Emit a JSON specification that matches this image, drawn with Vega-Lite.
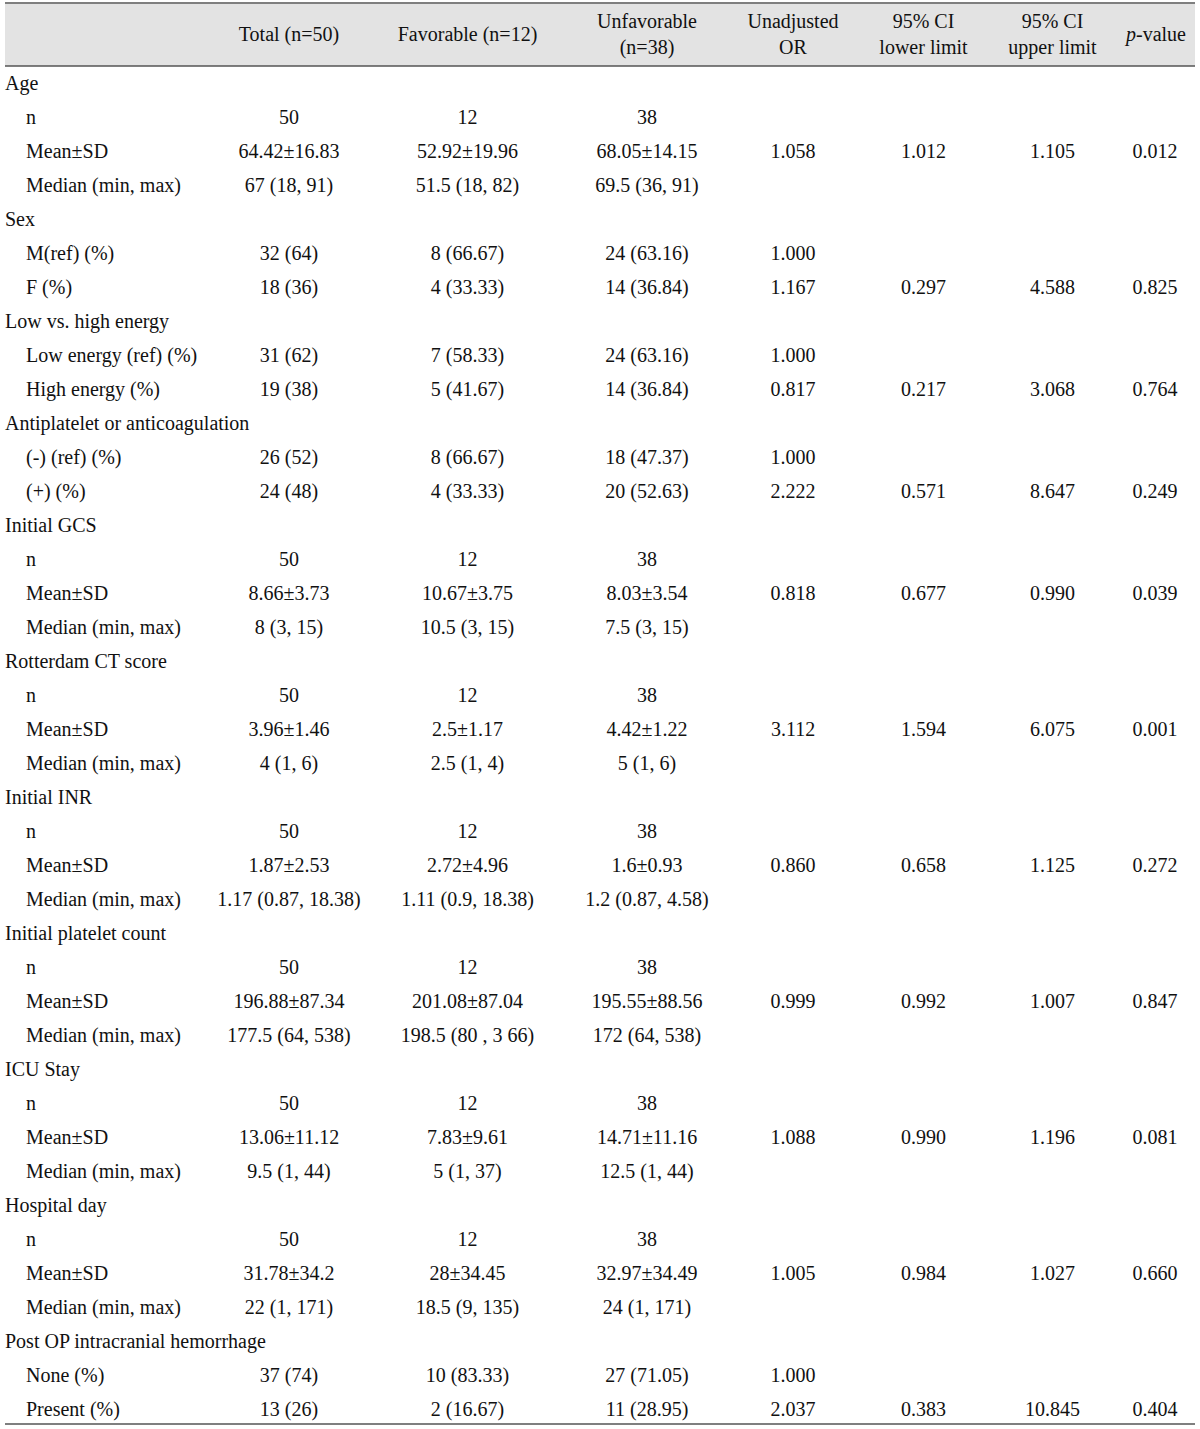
{
  "$schema": "https://vega.github.io/schema/vega-lite/v6.json",
  "width": 1200,
  "height": 1429,
  "autosize": {"type": "fit", "contains": "padding"},
  "padding": {"left": 4, "right": 4, "top": 0, "bottom": 0},
  "background": "white",
  "config": {
    "view": {"stroke": null},
    "text": {"font": "Liberation Serif", "fontSize": 20, "color": "#111111", "baseline": "middle"}
  },
  "datasets": {
    "cols": [
      {"key": "Total", "ci": 1, "head": "Total (n=50)"},
      {"key": "Fav", "ci": 2, "head": "Favorable  (n=12)"},
      {"key": "Unfav", "ci": 3, "head": "Unfavorable\n(n=38)"},
      {"key": "OR", "ci": 4, "head": "Unadjusted\nOR"},
      {"key": "Lo", "ci": 5, "head": "95% CI\nlower limit"},
      {"key": "Hi", "ci": 6, "head": "95% CI\nupper limit"},
      {"key": "P", "ci": 7, "head": ""}
    ],
    "rows": [
      {"r": 0, "lvl": 0, "label": "Age"},
      {"r": 1, "lvl": 1, "label": "n", "Total": "50", "Fav": "12", "Unfav": "38"},
      {"r": 2, "lvl": 1, "label": "Mean±SD", "Total": "64.42±16.83", "Fav": "52.92±19.96", "Unfav": "68.05±14.15", "OR": "1.058", "Lo": "1.012", "Hi": "1.105", "P": "0.012"},
      {"r": 3, "lvl": 1, "label": "Median (min, max)", "Total": "67 (18, 91)", "Fav": "51.5 (18, 82)", "Unfav": "69.5 (36, 91)"},
      {"r": 4, "lvl": 0, "label": "Sex"},
      {"r": 5, "lvl": 1, "label": "M(ref) (%)", "Total": "32 (64)", "Fav": "8 (66.67)", "Unfav": "24 (63.16)", "OR": "1.000"},
      {"r": 6, "lvl": 1, "label": "F (%)", "Total": "18 (36)", "Fav": "4 (33.33)", "Unfav": "14 (36.84)", "OR": "1.167", "Lo": "0.297", "Hi": "4.588", "P": "0.825"},
      {"r": 7, "lvl": 0, "label": "Low vs. high energy"},
      {"r": 8, "lvl": 1, "label": "Low energy (ref) (%)", "Total": "31 (62)", "Fav": "7 (58.33)", "Unfav": "24 (63.16)", "OR": "1.000"},
      {"r": 9, "lvl": 1, "label": "High energy (%)", "Total": "19 (38)", "Fav": "5 (41.67)", "Unfav": "14 (36.84)", "OR": "0.817", "Lo": "0.217", "Hi": "3.068", "P": "0.764"},
      {"r": 10, "lvl": 0, "label": "Antiplatelet or anticoagulation"},
      {"r": 11, "lvl": 1, "label": "(-) (ref) (%)", "Total": "26 (52)", "Fav": "8 (66.67)", "Unfav": "18 (47.37)", "OR": "1.000"},
      {"r": 12, "lvl": 1, "label": "(+) (%)", "Total": "24 (48)", "Fav": "4 (33.33)", "Unfav": "20 (52.63)", "OR": "2.222", "Lo": "0.571", "Hi": "8.647", "P": "0.249"},
      {"r": 13, "lvl": 0, "label": "Initial GCS"},
      {"r": 14, "lvl": 1, "label": "n", "Total": "50", "Fav": "12", "Unfav": "38"},
      {"r": 15, "lvl": 1, "label": "Mean±SD", "Total": "8.66±3.73", "Fav": "10.67±3.75", "Unfav": "8.03±3.54", "OR": "0.818", "Lo": "0.677", "Hi": "0.990", "P": "0.039"},
      {"r": 16, "lvl": 1, "label": "Median (min, max)", "Total": "8 (3, 15)", "Fav": "10.5 (3, 15)", "Unfav": "7.5 (3, 15)"},
      {"r": 17, "lvl": 0, "label": "Rotterdam CT score"},
      {"r": 18, "lvl": 1, "label": "n", "Total": "50", "Fav": "12", "Unfav": "38"},
      {"r": 19, "lvl": 1, "label": "Mean±SD", "Total": "3.96±1.46", "Fav": "2.5±1.17", "Unfav": "4.42±1.22", "OR": "3.112", "Lo": "1.594", "Hi": "6.075", "P": "0.001"},
      {"r": 20, "lvl": 1, "label": "Median (min, max)", "Total": "4 (1, 6)", "Fav": "2.5 (1, 4)", "Unfav": "5 (1, 6)"},
      {"r": 21, "lvl": 0, "label": "Initial INR"},
      {"r": 22, "lvl": 1, "label": "n", "Total": "50", "Fav": "12", "Unfav": "38"},
      {"r": 23, "lvl": 1, "label": "Mean±SD", "Total": "1.87±2.53", "Fav": "2.72±4.96", "Unfav": "1.6±0.93", "OR": "0.860", "Lo": "0.658", "Hi": "1.125", "P": "0.272"},
      {"r": 24, "lvl": 1, "label": "Median (min, max)", "Total": "1.17 (0.87, 18.38)", "Fav": "1.11 (0.9, 18.38)", "Unfav": "1.2 (0.87, 4.58)"},
      {"r": 25, "lvl": 0, "label": "Initial platelet count"},
      {"r": 26, "lvl": 1, "label": "n", "Total": "50", "Fav": "12", "Unfav": "38"},
      {"r": 27, "lvl": 1, "label": "Mean±SD", "Total": "196.88±87.34", "Fav": "201.08±87.04", "Unfav": "195.55±88.56", "OR": "0.999", "Lo": "0.992", "Hi": "1.007", "P": "0.847"},
      {"r": 28, "lvl": 1, "label": "Median (min, max)", "Total": "177.5 (64, 538)", "Fav": "198.5 (80 , 3 66)", "Unfav": "172 (64, 538)"},
      {"r": 29, "lvl": 0, "label": "ICU Stay"},
      {"r": 30, "lvl": 1, "label": "n", "Total": "50", "Fav": "12", "Unfav": "38"},
      {"r": 31, "lvl": 1, "label": "Mean±SD", "Total": "13.06±11.12", "Fav": "7.83±9.61", "Unfav": "14.71±11.16", "OR": "1.088", "Lo": "0.990", "Hi": "1.196", "P": "0.081"},
      {"r": 32, "lvl": 1, "label": "Median (min, max)", "Total": "9.5 (1, 44)", "Fav": "5 (1, 37)", "Unfav": "12.5 (1, 44)"},
      {"r": 33, "lvl": 0, "label": "Hospital day"},
      {"r": 34, "lvl": 1, "label": "n", "Total": "50", "Fav": "12", "Unfav": "38"},
      {"r": 35, "lvl": 1, "label": "Mean±SD", "Total": "31.78±34.2", "Fav": "28±34.45", "Unfav": "32.97±34.49", "OR": "1.005", "Lo": "0.984", "Hi": "1.027", "P": "0.660"},
      {"r": 36, "lvl": 1, "label": "Median (min, max)", "Total": "22 (1, 171)", "Fav": "18.5 (9, 135)", "Unfav": "24 (1, 171)"},
      {"r": 37, "lvl": 0, "label": "Post OP intracranial hemorrhage"},
      {"r": 38, "lvl": 1, "label": "None (%)", "Total": "37 (74)", "Fav": "10 (83.33)", "Unfav": "27 (71.05)", "OR": "1.000"},
      {"r": 39, "lvl": 1, "label": "Present (%)", "Total": "13 (26)", "Fav": "2 (16.67)", "Unfav": "11 (28.95)", "OR": "2.037", "Lo": "0.383", "Hi": "10.845", "P": "0.404"}
    ]
  },
  "resolve": {"scale": {"x": "independent"}},
  "layer": [
    {
      "data": {"values": [{"band": "header"}]},
      "mark": {"type": "rect", "color": "#e3e3e3"},
      "encoding": {
        "y": {"datum": -2.353, "type": "quantitative", "scale": {"domain": [-2.4706, 39.5588], "reverse": true, "zero": false, "nice": false}, "axis": null},
        "y2": {"datum": -0.529}
      }
    },
    {
      "data": {"values": [{"line": -2.382}, {"line": -0.529}, {"line": 39.412}]},
      "mark": {"type": "rule", "strokeWidth": 1.6, "color": "#555555"},
      "encoding": {
        "y": {"field": "line", "type": "quantitative", "scale": {"domain": [-2.4706, 39.5588], "reverse": true, "zero": false, "nice": false}, "axis": null}
      }
    },
    {
      "data": {"name": "cols"},
      "transform": [{"filter": "indexof(datum.head, '\\n') < 0"}],
      "mark": {"type": "text", "align": "center"},
      "encoding": {
        "x": {"field": "ci", "type": "quantitative", "scale": {"domain": [0, 1, 2, 3, 4, 5, 6, 7], "range": [0, 284, 462.5, 642, 788, 918.5, 1047.5, 1150], "zero": false, "nice": false}, "axis": null},
        "y": {"datum": -1.441, "type": "quantitative", "scale": {"domain": [-2.4706, 39.5588], "reverse": true, "zero": false, "nice": false}, "axis": null},
        "text": {"field": "head"}
      }
    },
    {
      "data": {"name": "cols"},
      "transform": [{"filter": "indexof(datum.head, '\\n') >= 0"}],
      "mark": {"type": "text", "align": "center", "lineBreak": "\n", "lineHeight": 26},
      "encoding": {
        "x": {"field": "ci", "type": "quantitative", "scale": {"domain": [0, 1, 2, 3, 4, 5, 6, 7], "range": [0, 284, 462.5, 642, 788, 918.5, 1047.5, 1150], "zero": false, "nice": false}, "axis": null},
        "y": {"datum": -1.8235, "type": "quantitative", "scale": {"domain": [-2.4706, 39.5588], "reverse": true, "zero": false, "nice": false}, "axis": null},
        "text": {"field": "head"}
      }
    },
    {
      "data": {"values": [{"part": "p", "ci": 7}]},
      "mark": {"type": "text", "align": "right", "fontStyle": "italic", "dx": -19},
      "encoding": {
        "x": {"field": "ci", "type": "quantitative", "scale": {"domain": [0, 1, 2, 3, 4, 5, 6, 7], "range": [0, 284, 462.5, 642, 788, 918.5, 1047.5, 1150], "zero": false, "nice": false}, "axis": null},
        "y": {"datum": -1.441, "type": "quantitative", "scale": {"domain": [-2.4706, 39.5588], "reverse": true, "zero": false, "nice": false}, "axis": null},
        "text": {"field": "part"}
      }
    },
    {
      "data": {"values": [{"part": "-value", "ci": 7}]},
      "mark": {"type": "text", "align": "left", "dx": -19},
      "encoding": {
        "x": {"field": "ci", "type": "quantitative", "scale": {"domain": [0, 1, 2, 3, 4, 5, 6, 7], "range": [0, 284, 462.5, 642, 788, 918.5, 1047.5, 1150], "zero": false, "nice": false}, "axis": null},
        "y": {"datum": -1.441, "type": "quantitative", "scale": {"domain": [-2.4706, 39.5588], "reverse": true, "zero": false, "nice": false}, "axis": null},
        "text": {"field": "part"}
      }
    },
    {
      "data": {"name": "rows"},
      "mark": {"type": "text", "align": "left"},
      "encoding": {
        "x": {"field": "lvl", "type": "quantitative", "scale": {"domain": [0, 1], "range": [0, 21], "zero": false, "nice": false}, "axis": null},
        "y": {"field": "r", "type": "quantitative", "scale": {"domain": [-2.4706, 39.5588], "reverse": true, "zero": false, "nice": false}, "axis": null},
        "text": {"field": "label"}
      }
    },
    {
      "data": {"name": "rows"},
      "transform": [
        {"fold": ["Total", "Fav", "Unfav", "OR", "Lo", "Hi", "P"], "as": ["key", "value"]},
        {"filter": "datum.value != null"},
        {"lookup": "key", "from": {"data": {"name": "cols"}, "key": "key", "fields": ["ci"]}}
      ],
      "mark": {"type": "text", "align": "center"},
      "encoding": {
        "x": {"field": "ci", "type": "quantitative", "scale": {"domain": [0, 1, 2, 3, 4, 5, 6, 7], "range": [0, 284, 462.5, 642, 788, 918.5, 1047.5, 1150], "zero": false, "nice": false}, "axis": null},
        "y": {"field": "r", "type": "quantitative", "scale": {"domain": [-2.4706, 39.5588], "reverse": true, "zero": false, "nice": false}, "axis": null},
        "text": {"field": "value"}
      }
    }
  ]
}
